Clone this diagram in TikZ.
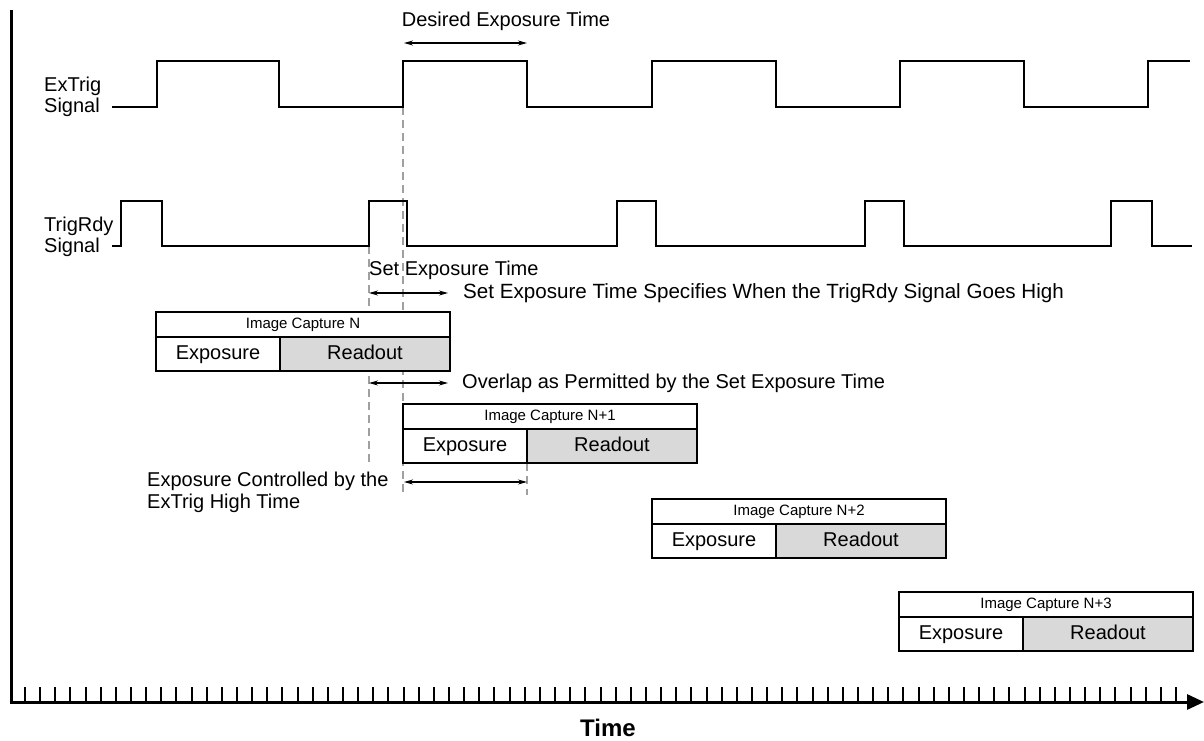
\documentclass[tikz,border=0pt]{standalone}
\usepackage{fontspec}
\setmainfont{Liberation Sans}
\usetikzlibrary{arrows.meta}
\definecolor{rdfill}{RGB}{217,217,217}
\definecolor{dashgray}{RGB}{160,160,160}
\newcommand\capbox[4]{%
  \node[titlebox, anchor=north west] (#1t) at (#2,#3) {#4};
  \node[expbox, anchor=north west] (#1e) at (#1t.south west) {Exposure};
  \node[rdbox, anchor=north west] (#1r) at (#1e.north east) {Readout};
}
\begin{document}
\begin{tikzpicture}[x=1pt,y=-1pt,
  sig/.style={line width=2.8pt, line join=miter},
  dsh/.style={draw=dashgray, line width=1.3pt, dash pattern=on 8pt off 5pt},
  dim/.style={line width=1.1pt, {Stealth[length=9pt,width=5pt]}-{Stealth[length=9pt,width=5pt]}},
  lbl/.style={font=\fontsize{20}{21}\selectfont, inner sep=0pt},
  cell/.style={draw, line width=1.3pt, outer sep=0pt, inner sep=0pt},
  titlebox/.style={cell, fill=white, minimum width=294pt, minimum height=25pt, text height=11pt, text depth=3pt, font=\fontsize{15}{17}\selectfont},
  expbox/.style={cell, fill=white, minimum width=124pt, minimum height=34pt, text height=14.5pt, text depth=4pt, font=\fontsize{20}{22}\selectfont},
  rdbox/.style={cell, fill=rdfill, minimum width=170pt, minimum height=34pt, text height=14.5pt, text depth=4pt, font=\fontsize{20}{22}\selectfont},
  tick/.style={line width=2.2pt},
]
\useasboundingbox (0,0) rectangle (1204,741);

% axes
\coordinate (yaxtop) at (11,10);
\coordinate (xaxend) at (1204,702);
\draw[line width=3pt, line join=miter, -{Triangle[length=17pt,width=15pt]}] (yaxtop) |- (xaxend);
\foreach \i in {0,...,76} {
  \pgfmathsetmacro\tx{round(25+\i*15.145)}
  \draw[tick] (\tx,687) -- ++(0,15);
}
\node[font=\bfseries\fontsize{24}{26}\selectfont, inner sep=0pt] (time) at (608,728) {Time};

% signal labels
\node[lbl, anchor=west, align=left] (extrigl) at (44,97) {ExTrig\\Signal};
\node[lbl, anchor=west, align=left] (trigrdyl) at (44,237) {TrigRdy\\Signal};

% dashed guide lines
\coordinate (d1t) at (369,246); \coordinate (d1b) at (369,465);
\coordinate (d2t) at (403,107); \coordinate (d2b) at (403,495);
\coordinate (d3t) at (527,463); \coordinate (d3b) at (527,495);
\draw[dsh] (d1t) -- (d1b);
\draw[dsh] (d2t) -- (d2b);
\draw[dsh] (d3t) -- (d3b);

% ExTrig signal
\draw[sig] (112,107) -| (157,61) -| (279,107) -| (403,61) -| (527,107) -| (652,61)
  -| (776,107) -| (900,61) -| (1024,107) -| (1148,61) -- (1190,61);
% TrigRdy signal
\draw[sig] (112,246) -| (121,201) -| (162,246) -| (369,201) -| (407,246) -| (617,201)
  -| (656,246) -| (865,201) -| (904,246) -| (1111,201) -| (1152,246) -- (1192,246);

% capture boxes
\capbox{capN}{156}{312}{Image Capture N}
\capbox{capNa}{403}{404}{Image Capture N+1}
\capbox{capNb}{652}{499}{Image Capture N+2}
\capbox{capNc}{899}{592}{Image Capture N+3}

% desired exposure time
\node[lbl] (desired) at (506,21) {Desired Exposure Time};
\coordinate (de1) at (404,43); \coordinate (de2) at (527,43);
\draw[dim] (de1) -- (de2);

% set exposure time
\node[lbl, anchor=west] (setexp) at (369,270) {Set Exposure Time};
\coordinate (se1) at (369,293); \coordinate (se2) at (448,293);
\draw[dim] (se1) -- (se2);
\node[lbl, anchor=west, font=\fontsize{20.6}{22}\selectfont] (setspec) at (463,293) {Set Exposure Time Specifies When the TrigRdy Signal Goes High};

% overlap
\coordinate (ov1) at (369,383); \coordinate (ov2) at (448,383);
\draw[dim] (ov1) -- (ov2);
\node[lbl, anchor=west] (overlap) at (462,383) {Overlap as Permitted by the Set Exposure Time};

% exposure controlled
\coordinate (ec1) at (404,482); \coordinate (ec2) at (527,482);
\draw[dim] (ec1) -- (ec2);
\node[lbl, anchor=north west, align=left, font=\fontsize{20}{22}\selectfont] (expctl) at (147,472) {Exposure Controlled by the\\ExTrig High Time};
\end{tikzpicture}
\end{document}
